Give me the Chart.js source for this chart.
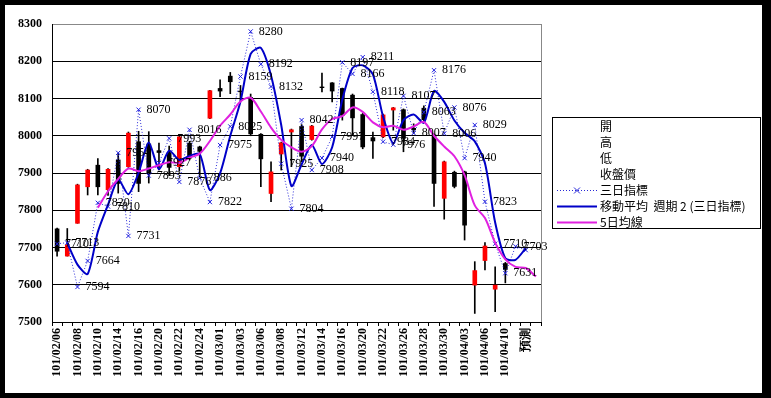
<!DOCTYPE html>
<html lang="zh-Hant">
<head>
<meta charset="UTF-8">
<title>三日指標</title>
<style>
  html, body { margin: 0; padding: 0; background: #000; }
  #wrap { position: absolute; left: 5px; top: 5px; width: 757px; height: 388px; background: #fff; }
</style>
</head>
<body>
<div id="wrap"><canvas id="chart"></canvas></div>

<script src="https://cdn.jsdelivr.net/npm/chart.js"></script>
<script>
// 日期 (每隔一個顯示)
const labels = ['101/02/06','101/02/07','101/02/08','101/02/09','101/02/10','101/02/13','101/02/14','101/02/15',
  '101/02/16','101/02/17','101/02/20','101/02/21','101/02/22','101/02/23','101/02/24','101/02/29',
  '101/03/01','101/03/02','101/03/03','101/03/05','101/03/06','101/03/07','101/03/08','101/03/09',
  '101/03/12','101/03/13','101/03/14','101/03/15','101/03/16','101/03/19','101/03/20','101/03/21',
  '101/03/22','101/03/23','101/03/26','101/03/27','101/03/28','101/03/29','101/03/30','101/04/02',
  '101/04/03','101/04/05','101/04/06','101/04/09','101/04/10','101/04/11','預測',''];

// K線: 開 高 低 收盤價
const openPrice  = [7750,7677,7765,7863,7921,7855,7935,7917,7984,7978,7960,7955,7917,7980,7970,8047,8127,8160,8120,8103,
  8004,7845,7951,8010,8025,7990,8131,8142,8127,8109,8057,7995,7997,8069,8070,8020,8074,8002,7832,7902,7903,7599,7665,7588,7657];
const highPrice  = [7752,7751,7870,7910,7939,7912,7953,8010,8012,8011,7980,7972,8000,7985,7972,8122,8150,8170,8135,8112,
  8006,7930,7983,8018,8030,8028,8168,8143,8128,8112,8060,8010,8058,8076,8072,8032,8080,8005,7932,7905,7905,7662,7713,7648,7660];
const lowPrice   = [7677,7677,7765,7841,7841,7840,7846,7915,7850,7873,7908,7893,7905,7935,7890,8046,8105,8113,8095,8000,
  7863,7823,7908,7917,7930,7988,8118,8091,8042,8002,7965,7939,7995,8015,7957,8006,8040,7810,7776,7860,7720,7523,7640,7528,7605];
const closePrice = [7690,7707,7868,7908,7863,7910,7872,8007,7872,7899,7955,7915,7997,7940,7958,8121,8120,8145,8118,8005,
  7938,7903,7981,8016,7945,8026,8129,8120,8055,8048,7970,7986,8056,8075,7993,8016,8043,7872,7930,7864,7760,7638,7704,7599,7641];

// 三日指標
const threeDay = [7710,7713,7594,7664,7820,7810,7954,7731,8070,7893,7927,7993,7876,8016,7886,7822,7975,8025,8159,8280,
  8192,8132,7925,7804,8042,7908,7940,7997,8197,8166,8211,8118,7984,7976,8107,8007,8063,8176,8006,8076,
  7940,8029,7823,7710,7631,7703,7693];

// 移動平均 週期2 (三日指標)
const threeDayAvg = [null,7712,7654,7629,7742,7815,7882,7843,7901,7982,7910,7960,7935,7946,7951,7854,7899,8000,8092,8220,
  8236,8162,8029,7865,7923,7975,7924,7969,8097,8182,8189,8165,8051,7980,8042,8057,8035,8120,8091,8041,
  8008,7985,7926,7767,7671,7667,7698];

// 5日均線
const fiveDayAvg = [null,null,null,null,7807,7851,7884,7912,7905,7912,7921,7929,7927,7941,7952,7986,8027,8057,8092,8102,
  8065,8022,7989,7969,7957,7972,8017,8045,8053,8076,8064,8036,8023,8027,8016,8025,8037,8000,7971,7945,
  7894,7813,7779,7713,7668,7648,7645,7622];

const yTicks = [7500, 7600, 7700, 7800, 7900, 8000, 8100, 8200, 8300];
const legendNames = ['開', '高', '低', '收盤價', '三日指標', '移動平均  週期 2 (三日指標)', '5日均線'];

// 數字標籤 (三日指標)
const pointLabels = {
  id: 'pointLabels',
  afterDraw(chart) {
    const ctx = chart.ctx;
    const meta = chart.getDatasetMeta(0);
    ctx.save();
    ctx.font = '12px "Liberation Serif"';
    ctx.fillStyle = '#000';
    ctx.textBaseline = 'middle';
    meta.data.forEach(function (pt, i) {
      if (threeDay[i] == null || i === threeDay.length - 1) return;
      ctx.fillText(String(threeDay[i]), pt.x + 8, pt.y);
    });
    ctx.restore();
  }
};

// 圖例方框 + 圖表區右框線
const boxLegend = {
  id: 'boxLegend',
  afterDraw(chart) {
    const ctx = chart.ctx;
    const a = chart.chartArea;
    ctx.save();
    ctx.strokeStyle = '#888';
    ctx.lineWidth = 1;
    ctx.beginPath();
    ctx.moveTo(Math.round(a.right) + 0.5, a.top);
    ctx.lineTo(Math.round(a.right) + 0.5, a.bottom);
    ctx.stroke();

    ctx.strokeStyle = '#000';
    ctx.strokeRect(547.5, 112.5, 208, 111);
    ctx.font = '12px "Noto Sans CJK TC"';
    ctx.fillStyle = '#000';
    ctx.textBaseline = 'middle';
    legendNames.forEach(function (name, i) {
      const y = 121.5 + i * 16;
      ctx.fillText(name, 595, y);
      let ds = null;
      if (i === 4) ds = chart.data.datasets[0];
      if (i === 5) ds = chart.data.datasets[1];
      if (i === 6) ds = chart.data.datasets[2];
      if (!ds) return;
      ctx.strokeStyle = ds.borderColor;
      ctx.lineWidth = ds.borderWidth;
      ctx.setLineDash(ds.borderDash || []);
      ctx.beginPath();
      ctx.moveTo(552, y);
      ctx.lineTo(592, y);
      ctx.stroke();
      ctx.setLineDash([]);
      if (i === 4) {
        ctx.lineWidth = 1;
        ctx.beginPath();
        ctx.moveTo(569, y - 3); ctx.lineTo(575, y + 3);
        ctx.moveTo(575, y - 3); ctx.lineTo(569, y + 3);
        ctx.stroke();
      }
    });
    ctx.restore();
  }
};

const tickFont = { family: 'Liberation Serif', size: 12, weight: 'bold' };

new Chart(document.getElementById('chart'), {
  type: 'bar',
  data: {
    labels: labels,
    datasets: [
      {
        type: 'line',
        label: legendNames[4],
        data: threeDay,
        borderColor: '#2828d8',
        borderWidth: 1,
        borderDash: [1, 2],
        pointStyle: 'crossRot',
        pointRadius: 3,
        pointBorderColor: '#2020e0',
        pointBorderWidth: 1,
        tension: 0,
        order: 3
      },
      {
        type: 'line',
        label: legendNames[5],
        data: threeDayAvg,
        borderColor: '#0000c8',
        borderWidth: 2,
        pointRadius: 0,
        tension: 0.25,
        order: 2
      },
      {
        type: 'line',
        label: legendNames[6],
        data: fiveDayAvg,
        borderColor: '#e020e0',
        borderWidth: 2,
        pointRadius: 0,
        tension: 0.3,
        order: 1
      },
      {
        label: '收盤價',
        data: openPrice.map(function (o, i) { return [o, closePrice[i]]; }),
        backgroundColor: openPrice.map(function (o, i) { return closePrice[i] >= o ? '#ff0000' : '#000000'; }),
        barThickness: 4,
        grouped: false,
        order: 4
      },
      {
        label: '高低',
        data: lowPrice.map(function (l, i) { return [l, highPrice[i]]; }),
        backgroundColor: '#000000',
        barThickness: 1,
        grouped: false,
        order: 5
      }
    ]
  },
  options: {
    responsive: true,
    maintainAspectRatio: false,
    animation: false,
    layout: { padding: { left: 0, top: 19, right: 221, bottom: 0 } },
    plugins: {
      legend: { display: false },
      tooltip: { enabled: false }
    },
    scales: {
      x: {
        offset: true,
        grid: { drawOnChartArea: false, drawTicks: true, tickLength: 4, color: '#000', offset: true },
        border: { color: '#000' },
        ticks: {
          autoSkip: false,
          minRotation: 90,
          maxRotation: 90,
          padding: 2,
          color: '#000',
          font: tickFont,
          callback: function (val, i) { return i % 2 === 0 ? this.getLabelForValue(val) : ''; }
        },
        afterFit: function (scale) { scale.height = 71; }
      },
      y: {
        min: yTicks[0],
        max: yTicks[yTicks.length - 1],
        afterBuildTicks: function (scale) { scale.ticks = yTicks.map(function (v) { return { value: v }; }); },
        grid: {
          drawTicks: false,
          color: function (c) { return c.tick && c.tick.value === 8300 ? '#888' : '#000'; }
        },
        border: { color: '#000' },
        ticks: {
          padding: 10,
          color: '#000',
          font: tickFont,
          callback: function (v) { return String(v); }
        },
        afterFit: function (scale) { scale.width = 47; }
      }
    }
  },
  plugins: [pointLabels, boxLegend]
});
</script>
</body>
</html>
